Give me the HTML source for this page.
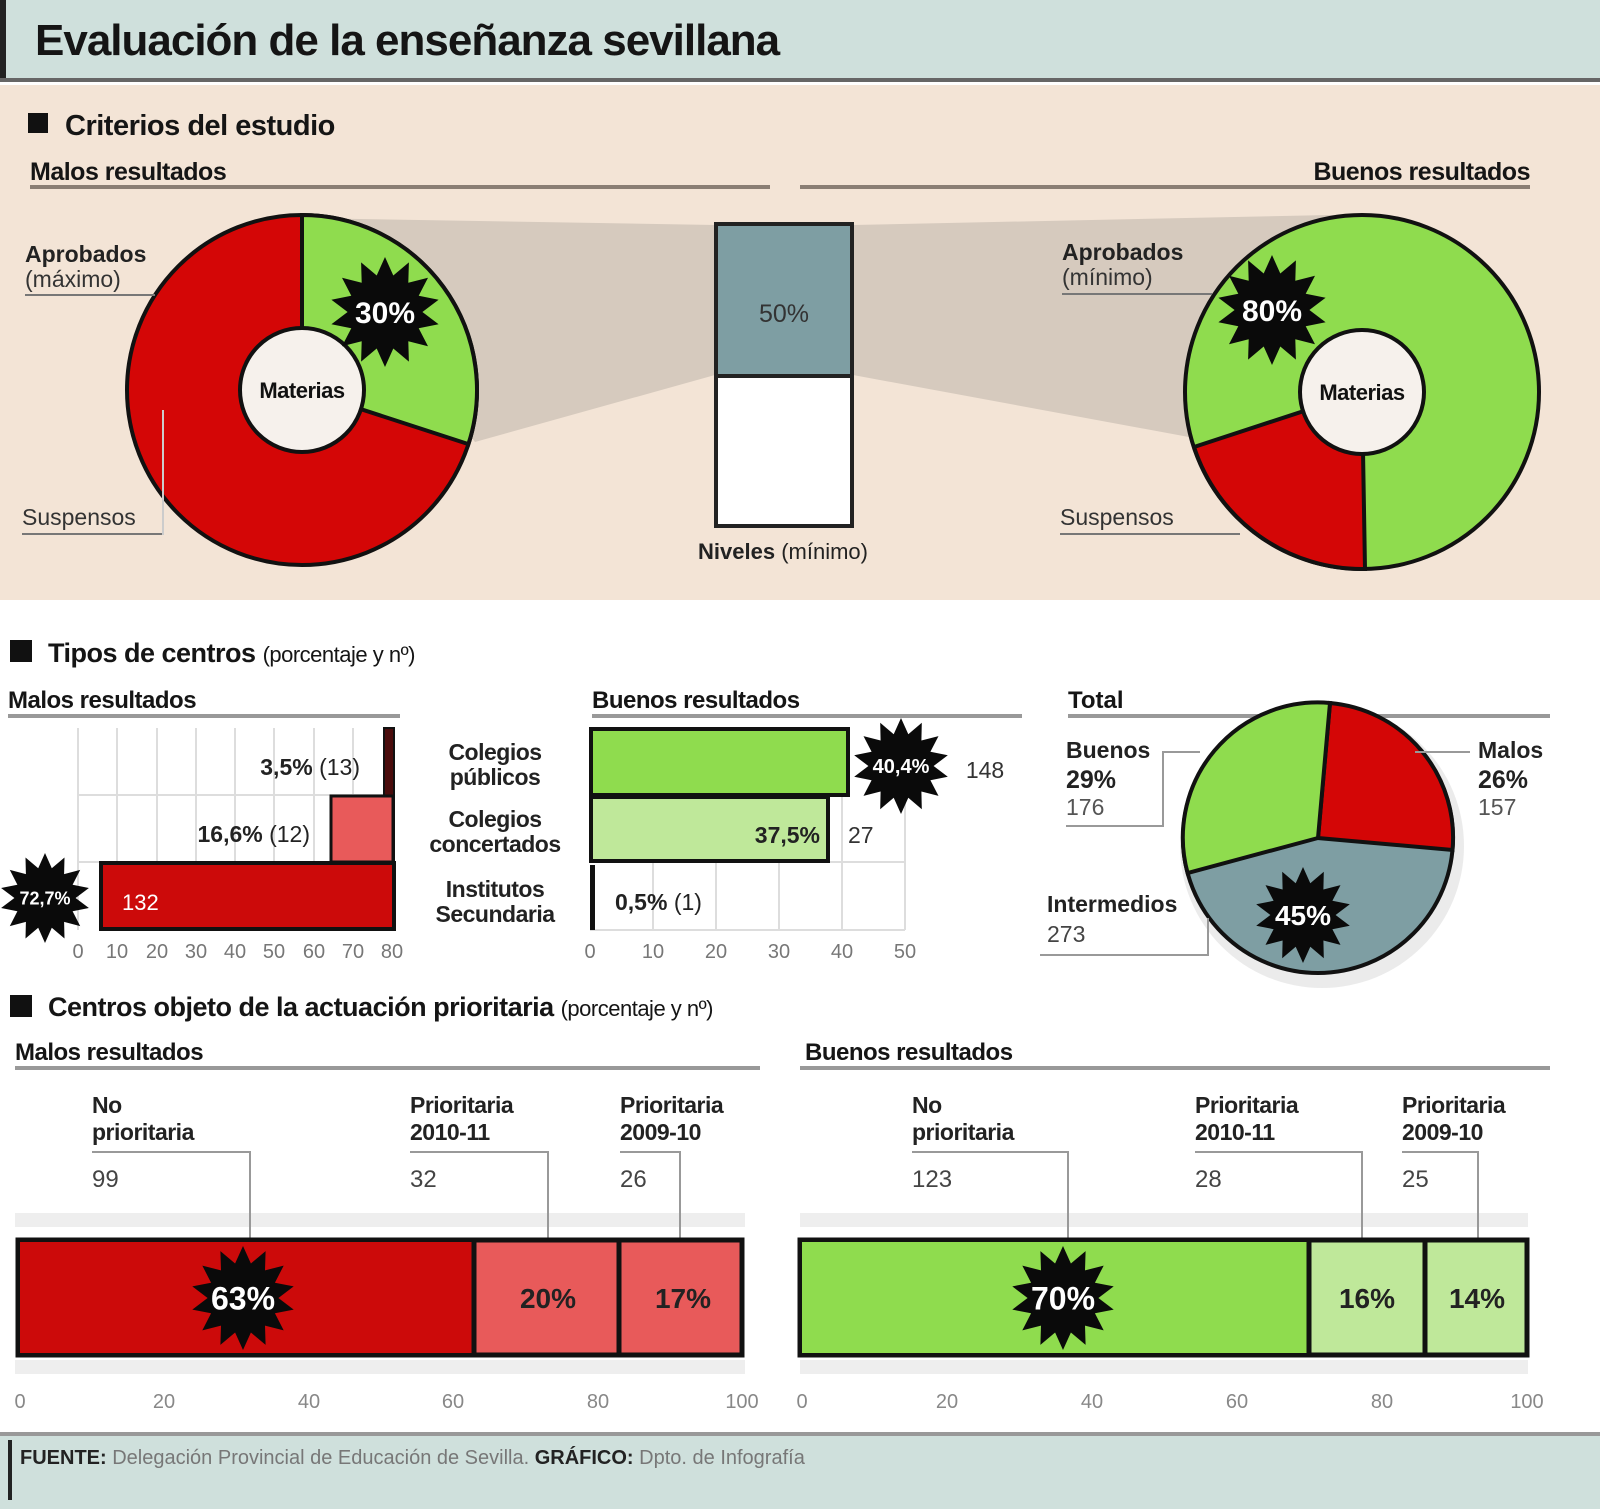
<!DOCTYPE html>
<html><head><meta charset="utf-8"><style>
html,body{margin:0;padding:0;background:#fff}
svg{display:block}
text{font-family:"Liberation Sans",sans-serif}
.b{font-weight:bold}
</style></head><body>
<svg id="s" width="1600" height="1509" viewBox="0 0 1600 1509" xmlns="http://www.w3.org/2000/svg">
<rect width="1600" height="1509" fill="#fff"/>
<!-- header -->
<rect x="0" y="0" width="1600" height="80" fill="#cfe0dc"/>
<rect x="0" y="0" width="6" height="80" fill="#222"/>
<rect x="0" y="78" width="1600" height="4" fill="#666"/>
<text x="35" y="55" class="b" font-size="44" fill="#151515" letter-spacing="-1">Evaluación de la enseñanza sevillana</text>
<!-- beige panel -->
<rect x="0" y="85" width="1600" height="515" fill="#f3e4d6"/>
<rect x="28" y="113" width="20" height="20" fill="#111"/>
<text x="65" y="135" class="b" font-size="29" fill="#151515" letter-spacing="-0.5">Criterios del estudio</text>
<text x="30" y="180" class="b" font-size="25" fill="#151515" letter-spacing="-0.5">Malos resultados</text>
<text x="1530" y="180" class="b" font-size="25" fill="#151515" text-anchor="end" letter-spacing="-0.5">Buenos resultados</text>
<rect x="30" y="185" width="740" height="4" fill="#8a7e74"/>
<rect x="800" y="185" width="730" height="4" fill="#8a7e74"/>
<!-- gray bands -->
<polygon points="300,218 715,225 715,375 475,442" fill="#d6cabe"/>
<polygon points="853,225 1330,215 1362,215 1205,440 853,375" fill="#d6cabe"/>
<!-- left donut -->
<circle cx="302" cy="390" r="175" fill="#d40606" stroke="#111" stroke-width="4"/>
<path d="M302,390 L302,215 A175,175 0 0 1 468.4,444.1 Z" fill="#8fdc4e" stroke="#111" stroke-width="4"/>
<circle cx="302" cy="390" r="62" fill="#f6f1ec" stroke="#111" stroke-width="4"/>
<text x="302" y="398" class="b" font-size="22" text-anchor="middle" fill="#111" letter-spacing="-0.5">Materias</text>
<text x="25" y="262" class="b" font-size="23" fill="#222">Aprobados</text>
<text x="25" y="287" font-size="23" fill="#333">(máximo)</text>
<rect x="25" y="294" width="130" height="2" fill="#777"/>
<text x="22" y="525" font-size="23" fill="#333">Suspensos</text>
<rect x="22" y="533" width="140" height="2" fill="#777"/>
<rect x="162" y="410" width="2" height="125" fill="#ccc"/>
<!-- center bar -->
<rect x="716" y="224" width="136" height="302" fill="#fff" stroke="#222" stroke-width="4"/>
<rect x="718" y="226" width="132" height="149" fill="#7e9ea3"/>
<rect x="716" y="374" width="136" height="4" fill="#222"/>
<text x="784" y="322" font-size="25" text-anchor="middle" fill="#333">50%</text>
<text x="783" y="559" font-size="22" text-anchor="middle" fill="#222"><tspan class="b">Niveles</tspan> (mínimo)</text>
<!-- right donut -->
<circle cx="1362" cy="392" r="177" fill="#8fdc4e" stroke="#111" stroke-width="4"/>
<path d="M1362,392 L1365,569 A177,177 0 0 1 1194,447 Z" fill="#d40606" stroke="#111" stroke-width="4"/>
<circle cx="1362" cy="392" r="62" fill="#f6f1ec" stroke="#111" stroke-width="4"/>
<text x="1362" y="400" class="b" font-size="22" text-anchor="middle" fill="#111" letter-spacing="-0.5">Materias</text>
<text x="1062" y="260" class="b" font-size="23" fill="#222">Aprobados</text>
<text x="1062" y="285" font-size="23" fill="#333">(mínimo)</text>
<rect x="1062" y="293" width="150" height="2" fill="#777"/>
<text x="1060" y="525" font-size="23" fill="#333">Suspensos</text>
<rect x="1060" y="533" width="180" height="2" fill="#777"/>
<!-- Section 2 -->
<rect x="10" y="640" width="22" height="22" fill="#111"/>
<text x="48" y="662" class="b" font-size="27" fill="#151515" letter-spacing="-0.5">Tipos de centros <tspan font-size="22" font-weight="normal">(porcentaje y nº)</tspan></text>
<text x="8" y="708" class="b" font-size="24" fill="#151515" letter-spacing="-0.5">Malos resultados</text>
<rect x="8" y="714" width="392" height="4" fill="#999"/>
<text x="592" y="708" class="b" font-size="24" fill="#151515" letter-spacing="-0.5">Buenos resultados</text>
<rect x="592" y="714" width="430" height="4" fill="#999"/>
<!-- malos grid -->
<g stroke="#ddd" stroke-width="2">
<line x1="78" y1="728" x2="78" y2="930"/><line x1="117" y1="728" x2="117" y2="930"/><line x1="157" y1="728" x2="157" y2="930"/><line x1="196" y1="728" x2="196" y2="930"/><line x1="235" y1="728" x2="235" y2="930"/><line x1="274" y1="728" x2="274" y2="930"/><line x1="314" y1="728" x2="314" y2="930"/><line x1="353" y1="728" x2="353" y2="930"/>
<line x1="78" y1="795" x2="392" y2="795"/><line x1="78" y1="862" x2="392" y2="862"/>
</g>
<rect x="384" y="728" width="10" height="135" fill="#4a0c0c" stroke="#111" stroke-width="2"/>
<rect x="331" y="796" width="62" height="66" fill="#e85a5a" stroke="#111" stroke-width="3"/>
<rect x="101" y="863" width="293" height="66" fill="#cc0a0a" stroke="#111" stroke-width="4"/>
<text x="360" y="775" class="b" font-size="23" text-anchor="end" fill="#222">3,5% <tspan font-weight="normal">(13)</tspan></text>
<text x="310" y="842" class="b" font-size="23" text-anchor="end" fill="#222">16,6% <tspan font-weight="normal">(12)</tspan></text>
<text x="122" y="910" font-size="22" fill="#fff">132</text>
<g font-size="20" fill="#777" text-anchor="middle">
<text x="78" y="958">0</text><text x="117" y="958">10</text><text x="157" y="958">20</text><text x="196" y="958">30</text><text x="235" y="958">40</text><text x="274" y="958">50</text><text x="314" y="958">60</text><text x="353" y="958">70</text><text x="392" y="958">80</text>
</g>
<!-- labels -->
<g class="b" font-size="23" fill="#222" text-anchor="middle" letter-spacing="-0.5">
<text x="495" y="760">Colegios</text><text x="495" y="785">públicos</text>
<text x="495" y="827">Colegios</text><text x="495" y="852">concertados</text>
<text x="495" y="897">Institutos</text><text x="495" y="922">Secundaria</text>
</g>
<!-- buenos grid -->
<g stroke="#ddd" stroke-width="2">
<line x1="653" y1="728" x2="653" y2="930"/><line x1="716" y1="728" x2="716" y2="930"/><line x1="779" y1="728" x2="779" y2="930"/><line x1="842" y1="728" x2="842" y2="930"/><line x1="905" y1="728" x2="905" y2="930"/>
<line x1="590" y1="862" x2="905" y2="862"/><line x1="590" y1="930" x2="905" y2="930"/>
</g>
<rect x="591" y="729" width="257" height="66" fill="#8fdc4e" stroke="#111" stroke-width="4"/>
<rect x="591" y="797" width="237" height="64" fill="#bfe89a" stroke="#111" stroke-width="4"/>
<rect x="590" y="865" width="5" height="65" fill="#111"/>
<text x="985" y="778" font-size="23" text-anchor="middle" fill="#333">148</text>
<text x="820" y="843" class="b" font-size="23" text-anchor="end" fill="#222">37,5%</text>
<text x="848" y="843" font-size="23" fill="#333">27</text>
<text x="615" y="910" class="b" font-size="23" fill="#222">0,5% <tspan font-weight="normal">(1)</tspan></text>
<g font-size="20" fill="#777" text-anchor="middle">
<text x="590" y="958">0</text><text x="653" y="958">10</text><text x="716" y="958">20</text><text x="779" y="958">30</text><text x="842" y="958">40</text><text x="905" y="958">50</text>
</g>
<!-- total pie -->
<text x="1068" y="708" class="b" font-size="24" fill="#151515">Total</text>
<rect x="1068" y="714" width="482" height="4" fill="#999"/>
<circle cx="1322" cy="846" r="142" fill="#ddd" opacity="0.6"/>
<circle cx="1318" cy="838" r="135" fill="#7e9ea3" stroke="#111" stroke-width="4"/>
<path d="M1318,838 L1330,703 A135,135 0 0 1 1452.5,850 Z" fill="#d40606" stroke="#111" stroke-width="4"/>
<path d="M1318,838 L1187.6,873 A135,135 0 0 1 1330,703 Z" fill="#8fdc4e" stroke="#111" stroke-width="4"/>
<text x="1066" y="758" class="b" font-size="23" fill="#222">Buenos</text>
<text x="1066" y="788" class="b" font-size="25" fill="#222">29%</text>
<text x="1066" y="815" font-size="23" fill="#555">176</text>
<polyline points="1066,826 1163,826 1163,752 1200,752" fill="none" stroke="#999" stroke-width="2"/>
<text x="1478" y="758" class="b" font-size="23" fill="#222">Malos</text>
<text x="1478" y="788" class="b" font-size="25" fill="#222">26%</text>
<text x="1478" y="815" font-size="23" fill="#555">157</text>
<line x1="1415" y1="752" x2="1470" y2="752" stroke="#999" stroke-width="2"/>
<text x="1047" y="912" class="b" font-size="23" fill="#222">Intermedios</text>
<text x="1047" y="942" font-size="23" fill="#444">273</text>
<polyline points="1040,955 1208,955 1208,918" fill="none" stroke="#999" stroke-width="2"/>
<!-- Section 3 -->
<rect x="10" y="995" width="22" height="22" fill="#111"/>
<text x="48" y="1016" class="b" font-size="27" fill="#151515" letter-spacing="-0.5">Centros objeto de la actuación prioritaria <tspan font-size="22" font-weight="normal">(porcentaje y nº)</tspan></text>
<text x="15" y="1060" class="b" font-size="24" fill="#151515" letter-spacing="-0.5">Malos resultados</text>
<rect x="15" y="1066" width="745" height="4" fill="#999"/>
<text x="805" y="1060" class="b" font-size="24" fill="#151515" letter-spacing="-0.5">Buenos resultados</text>
<rect x="800" y="1066" width="750" height="4" fill="#999"/>
<!-- light band -->
<rect x="15" y="1213" width="730" height="14" fill="#eee"/>
<rect x="15" y="1360" width="730" height="14" fill="#eee"/>
<rect x="800" y="1213" width="728" height="14" fill="#eee"/>
<rect x="800" y="1360" width="728" height="14" fill="#eee"/>
<g class="b" font-size="23" fill="#222" letter-spacing="-0.5">
<text x="92" y="1113">No</text><text x="92" y="1140">prioritaria</text>
<text x="410" y="1113">Prioritaria</text><text x="410" y="1140">2010-11</text>
<text x="620" y="1113">Prioritaria</text><text x="620" y="1140">2009-10</text>
<text x="912" y="1113">No</text><text x="912" y="1140">prioritaria</text>
<text x="1195" y="1113">Prioritaria</text><text x="1195" y="1140">2010-11</text>
<text x="1402" y="1113">Prioritaria</text><text x="1402" y="1140">2009-10</text>
</g>
<g font-size="24" fill="#444">
<text x="92" y="1187">99</text><text x="410" y="1187">32</text><text x="620" y="1187">26</text>
<text x="912" y="1187">123</text><text x="1195" y="1187">28</text><text x="1402" y="1187">25</text>
</g>
<g fill="none" stroke="#999" stroke-width="2">
<polyline points="92,1152 250,1152 250,1270"/><polyline points="410,1152 548,1152 548,1270"/><polyline points="620,1152 680,1152 680,1270"/>
<polyline points="912,1152 1068,1152 1068,1270"/><polyline points="1195,1152 1362,1152 1362,1270"/><polyline points="1402,1152 1478,1152 1478,1270"/>
</g>
<!-- malos bar -->
<rect x="18" y="1240" width="724" height="115" fill="#e85a5a" stroke="#111" stroke-width="5"/>
<rect x="20" y="1242" width="454" height="111" fill="#cc0a0a"/>
<line x1="474" y1="1240" x2="474" y2="1355" stroke="#111" stroke-width="5"/>
<line x1="619" y1="1240" x2="619" y2="1355" stroke="#111" stroke-width="5"/>
<!-- buenos bar -->
<rect x="800" y="1240" width="727" height="115" fill="#bfe89a" stroke="#111" stroke-width="5"/>
<rect x="802" y="1242" width="507" height="111" fill="#8fdc4e"/>
<line x1="1309" y1="1240" x2="1309" y2="1355" stroke="#111" stroke-width="5"/>
<line x1="1425" y1="1240" x2="1425" y2="1355" stroke="#111" stroke-width="5"/>
<g id="stars" fill="#0a0a0a"></g>
<g class="b" font-size="28" text-anchor="middle">
<text x="548" y="1308" fill="#222">20%</text>
<text x="683" y="1308" fill="#222">17%</text>
<text x="1367" y="1308" fill="#222">16%</text>
<text x="1477" y="1308" fill="#222">14%</text>
</g>
<g font-size="20" fill="#888" text-anchor="middle">
<text x="20" y="1408">0</text><text x="164" y="1408">20</text><text x="309" y="1408">40</text><text x="453" y="1408">60</text><text x="598" y="1408">80</text><text x="742" y="1408">100</text>
<text x="802" y="1408">0</text><text x="947" y="1408">20</text><text x="1092" y="1408">40</text><text x="1237" y="1408">60</text><text x="1382" y="1408">80</text><text x="1527" y="1408">100</text>
</g>
<!-- footer -->
<rect x="0" y="1432" width="1600" height="4" fill="#999"/>
<rect x="0" y="1436" width="1600" height="73" fill="#cfe0dc"/>
<rect x="8" y="1440" width="4" height="60" fill="#222"/>
<text x="20" y="1464" font-size="20" fill="#777"><tspan class="b" fill="#222">FUENTE:</tspan> Delegación Provincial de Educación de Sevilla. <tspan class="b" fill="#222">GRÁFICO:</tspan> Dpto. de Infografía</text>
<g id="startext" class="b" text-anchor="middle" fill="#fff"></g>
</svg>
<script>
var stars=[[385,312,55,'30%',30],[1272,310,55,'80%',30],[901,766,48,'40,4%',20],[45,898,45,'72,7%',18],[1303,915,48,'45%',28],[243,1298,52,'63%',32],[1063,1298,52,'70%',32]];
var g=document.getElementById('stars'),t=document.getElementById('startext'),ns='http://www.w3.org/2000/svg';
stars.forEach(function(s){var p=[],n=14;for(var i=0;i<2*n;i++){var r=i%2?s[2]*0.68:s[2];var a=Math.PI*i/n;p.push((s[0]+r*Math.sin(a)).toFixed(1)+','+(s[1]-r*Math.cos(a)).toFixed(1));}
var e=document.createElementNS(ns,'polygon');e.setAttribute('points',p.join(' '));g.appendChild(e);
var x=document.createElementNS(ns,'text');x.setAttribute('x',s[0]);x.setAttribute('y',s[1]+s[4]*0.36);x.setAttribute('font-size',s[4]);x.textContent=s[3];t.appendChild(x);});
</script>
</body></html>
